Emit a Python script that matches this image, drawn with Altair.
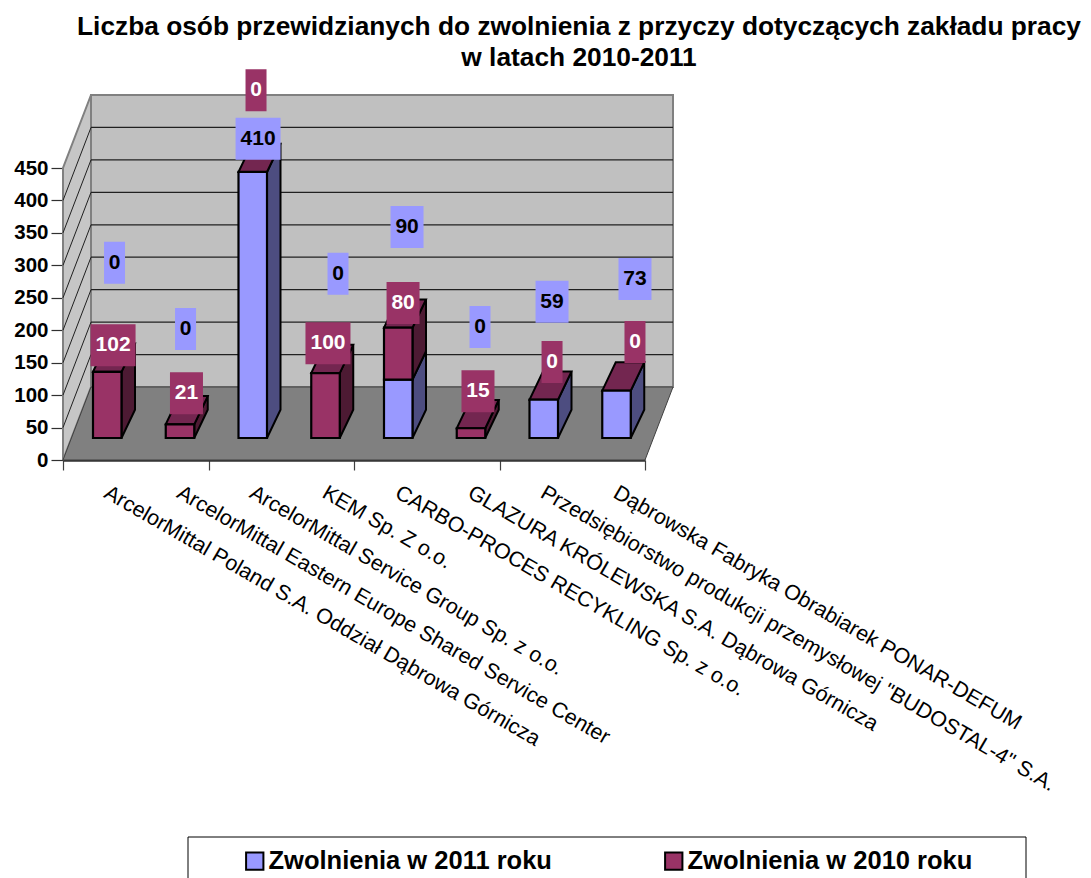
import json
import altair as alt
import pandas as pd

TITLE = ["Liczba osób przewidzianych do zwolnienia z przyczy dotyczących zakładu pracy", "w latach 2010-2011"]
COMPANIES = [
    "ArcelorMittal Poland S.A. Oddział Dąbrowa Górnicza",
    "ArcelorMittal Eastern Europe Shared Service Center",
    "ArcelorMittal Service Group Sp. z o.o.",
    "KEM Sp. Z o.o.",
    "CARBO-PROCES RECYKLING Sp. z o.o.",
    "GLAZURA KRÓLEWSKA S.A. Dąbrowa Górnicza",
    'Przedsiębiorstwo produkcji przemysłowej "BUDOSTAL-4" S.A.',
    "Dąbrowska Fabryka Obrabiarek PONAR-DEFUM",
]
V2011 = [0, 0, 410, 0, 90, 0, 59, 73]
V2010 = [102, 21, 0, 100, 80, 15, 0, 0]
S2011 = "Zwolnienia w 2011 roku"
S2010 = "Zwolnienia w 2010 roku"
YTICKS = [0, 50, 100, 150, 200, 250, 300, 350, 400, 450]

# how far each value label floats from its bar in Excel's 3-D projection (slots / value units)
LIFT_2011 = [270, 168, 51, 253, 235, 171, 151, 172]
LIFT_2010 = [41, 48, 126, 46, 38, 57, 58, 75]
SHIFT_2011 = [.10, .076, .073, .172, .121, .124, .114, .254]
SHIFT_2010 = [.08, .089, .045, .034, .066, .096, .114, .254]

BLUE, MAROON = "#9999FF", "#993366"
BLUE_SIDE, MAROON_SIDE, MAROON_TOP = "#4D4D80", "#4D1A33", "#732650"
FONT = "Liberation Sans"

PX_X, PX_Y = 582 / 8, 292 / 450
W_DX, W_DY = 28 / PX_X, 73 / PX_Y          # wall depth
BASE = 22 / PX_Y                            # bars stand this far up the floor
BAR_X, BAR_W = 30 / PX_X, 28.5 / PX_X
B_DX, B_DY = 13.5 / PX_X, 28.3 / PX_Y       # bar depth


def slanted(key, fill, x, w, dx, y, dy):
    """flat parallelogram (floor, bar top)"""
    return [
        dict(id=key, fill=fill, x=x, y=y, y2=y),
        dict(id=key, fill=fill, x=x + dx, y=y, y2=y + dy),
        dict(id=key, fill=fill, x=x + w, y=y, y2=y + dy),
        dict(id=key, fill=fill, x=x + w + dx, y=y + dy, y2=y + dy),
    ]


def upright(key, fill, x, dx, y0, y1, dy):
    """vertical parallelogram (left wall, bar side)"""
    return [dict(id=key, fill=fill, x=x, y=y0, y2=y1),
            dict(id=key, fill=fill, x=x + dx, y=y0 + dy, y2=y1 + dy)]


XSCALE = alt.Scale(domain=[0, 8], nice=False, zero=False)
YSCALE = alt.Scale(domain=[0, 450], nice=False, zero=False)
xs = alt.X("x:Q", scale=XSCALE, axis=None, title=None)
ys = alt.Y("y:Q", scale=YSCALE, axis=None, title=None)

# walls and floor
back = alt.Chart(pd.DataFrame([dict(x=W_DX, x2=8 + W_DX, y=W_DY, y2=W_DY + 450)])).mark_rect(
    fill="#C0C0C0", stroke="#808080", strokeWidth=2
).encode(xs, alt.X2("x2:Q"), ys, alt.Y2("y2:Q"))

left = alt.Chart(pd.DataFrame(upright("w", "#C6C6C6", 0, W_DX, 0, 450, W_DY))).mark_area(
    stroke="#808080", strokeWidth=2
).encode(xs, ys, alt.Y2("y2:Q"), alt.Fill("fill:N", scale=None), alt.Detail("id:N"))

floor = alt.Chart(pd.DataFrame(slanted("f", "#808080", 0, 8, W_DX, 0, W_DY))).mark_area(
    stroke="#404040", strokeWidth=1
).encode(xs, ys, alt.Y2("y2:Q"), alt.Fill("fill:N", scale=None), alt.Detail("id:N"))

grid_back = alt.Chart(pd.DataFrame(
    [dict(x=W_DX, x2=8 + W_DX, y=W_DY + t, y2=W_DY + t) for t in YTICKS[1:-1]]
)).mark_rule(color="#202020", strokeWidth=1.2).encode(xs, alt.X2("x2:Q"), ys, alt.Y2("y2:Q"))

grid_left = alt.Chart(pd.DataFrame(
    [dict(x=0, x2=W_DX, y=t, y2=W_DY + t) for t in YTICKS[1:-1]]
)).mark_rule(color="#202020", strokeWidth=1).encode(xs, alt.X2("x2:Q"), ys, alt.Y2("y2:Q"))

# bars
fronts, sides, tops = [], [], []
for i, (a, b) in enumerate(zip(V2011, V2010)):
    x = i + BAR_X
    if a > 0:
        fronts.append(dict(x=x, x2=x + BAR_W, y=BASE, y2=BASE + a, series=S2011, n=i))
        sides += upright(f"s{i}a", BLUE_SIDE, x + BAR_W, B_DX, BASE, BASE + a, B_DY)
    if b > 0:
        fronts.append(dict(x=x, x2=x + BAR_W, y=BASE + a, y2=BASE + a + b, series=S2010, n=i))
        sides += upright(f"s{i}b", MAROON_SIDE, x + BAR_W, B_DX, BASE + a, BASE + a + b, B_DY)
    tops += slanted(f"t{i}", MAROON_TOP, x, BAR_W, B_DX, BASE + a + b, B_DY)

side_faces = alt.Chart(pd.DataFrame(sides)).mark_area(stroke="black", strokeWidth=2).encode(
    xs, ys, alt.Y2("y2:Q"), alt.Fill("fill:N", scale=None), alt.Detail("id:N"))
top_faces = alt.Chart(pd.DataFrame(tops)).mark_area(stroke="black", strokeWidth=2).encode(
    xs, ys, alt.Y2("y2:Q"), alt.Fill("fill:N", scale=None), alt.Detail("id:N"))

legend_box = alt.Chart(pd.DataFrame([dict(x=125 / PX_X, x2=963 / PX_X, y=-377 / PX_Y, y2=-450 / PX_Y)])).mark_rect(
    fill="white", stroke="black", strokeWidth=1
).encode(xs, alt.X2("x2:Q"), ys, alt.Y2("y2:Q"))

front_faces = alt.Chart(pd.DataFrame(fronts)).mark_rect(stroke="black", strokeWidth=2.2).encode(
    xs, alt.X2("x2:Q"), ys, alt.Y2("y2:Q"),
    alt.Color(
        "series:N",
        scale=alt.Scale(domain=[S2011, S2010], range=[BLUE, MAROON]),
        legend=alt.Legend(
            title=None, orient="none", legendX=179, legendY=680, direction="horizontal", columns=2,
            columnPadding=109, padding=0, symbolType="square", symbolSize=300, symbolStrokeColor="black",
            symbolStrokeWidth=2, labelFont=FONT, labelFontSize=25.5, labelFontWeight="bold", labelColor="black",
            labelOffset=1, labelLimit=0, symbolOpacity=1,
        ),
    ),
)

# value labels
labels = []
for i in range(8):
    cx = i + BAR_X + BAR_W / 2
    a, b = V2011[i], V2010[i]
    for val, top, lift, shift, bg, fg in (
        (a, a, LIFT_2011[i], SHIFT_2011[i], BLUE, "black"),
        (b, a + b, LIFT_2010[i], SHIFT_2010[i], MAROON, "white"),
    ):
        text = str(val)
        hw = (9 + 12 * len(text)) / 2 / PX_X
        cy = BASE + top + lift
        labels.append(dict(x=cx + shift, x0=cx + shift - hw, x1=cx + shift + hw, y=cy,
                           y0=cy - 21 / PX_Y, y1=cy + 21 / PX_Y, text=text, bg=bg, fg=fg))
ldf = pd.DataFrame(labels)
label_bg = alt.Chart(ldf).mark_rect().encode(
    alt.X("x0:Q", scale=XSCALE, axis=None, title=None), alt.X2("x1:Q"),
    alt.Y("y0:Q", scale=YSCALE, axis=None, title=None), alt.Y2("y1:Q"),
    alt.Fill("bg:N", scale=None))
label_tx = alt.Chart(ldf).mark_text(font=FONT, fontSize=21, fontWeight="bold", baseline="middle").encode(
    xs, ys, alt.Text("text:N"), alt.Fill("fg:N", scale=None))

# axes
tick_layer = alt.Chart(pd.DataFrame(dict(x=[0, 8], y=[0, 0]))).mark_point(opacity=0).encode(
    alt.X("x:Q", scale=XSCALE, title=None,
          axis=alt.Axis(orient="bottom", values=[0, 2, 4, 6, 8], labels=False, grid=False, tickSize=10,
                        tickColor="#404040", tickWidth=1.2, domainColor="#303030", domainWidth=2.4)),
    alt.Y("y:Q", scale=YSCALE, title=None,
          axis=alt.Axis(orient="left", values=YTICKS, grid=False, tickSize=12, tickColor="#303030", tickWidth=1.2,
                        domainColor="#303030", domainWidth=2, labelFont=FONT, labelFontSize=20.5,
                        labelFontWeight="bold", labelColor="black", labelPadding=3)),
)
starts = [i + 0.58 for i in range(8)]
names = json.dumps(COMPANIES, ensure_ascii=False)
name_layer = alt.Chart(pd.DataFrame(dict(x=starts, y=[0] * 8))).mark_point(opacity=0).encode(
    alt.X("x:Q", scale=XSCALE, title=None,
          axis=alt.Axis(orient="bottom", values=starts, ticks=False, domain=False, grid=False, labelAngle=30,
                        labelAlign="left", labelBaseline="middle", labelPadding=31, labelOverlap=False, labelLimit=0,
                        labelBound=False, labelFlush=False, labelFont=FONT, labelFontSize=21.4, labelColor="black",
                        labelExpr=f"{names}[floor(datum.value)]")),
    alt.Y("y:Q", scale=YSCALE, axis=None, title=None),
)

chart = alt.layer(
    tick_layer, name_layer, back, left, floor, grid_back, grid_left,
    side_faces, top_faces, legend_box, front_faces, label_bg, label_tx,
).resolve_axis(x="independent", y="independent").properties(
    width=582, height=292,
    padding={"left": 55, "top": 160, "right": 438, "bottom": 418},
    autosize=alt.AutoSizeParams(type="none"),
    title=alt.Title(TITLE, font=FONT, fontSize=26.3, fontWeight="bold", color="black",
                    anchor="middle", dx=225, offset=-2, lineHeight=31),
).configure_view(stroke=None)

chart.save("out.html", embed_options={"renderer": "svg", "actions": False})
